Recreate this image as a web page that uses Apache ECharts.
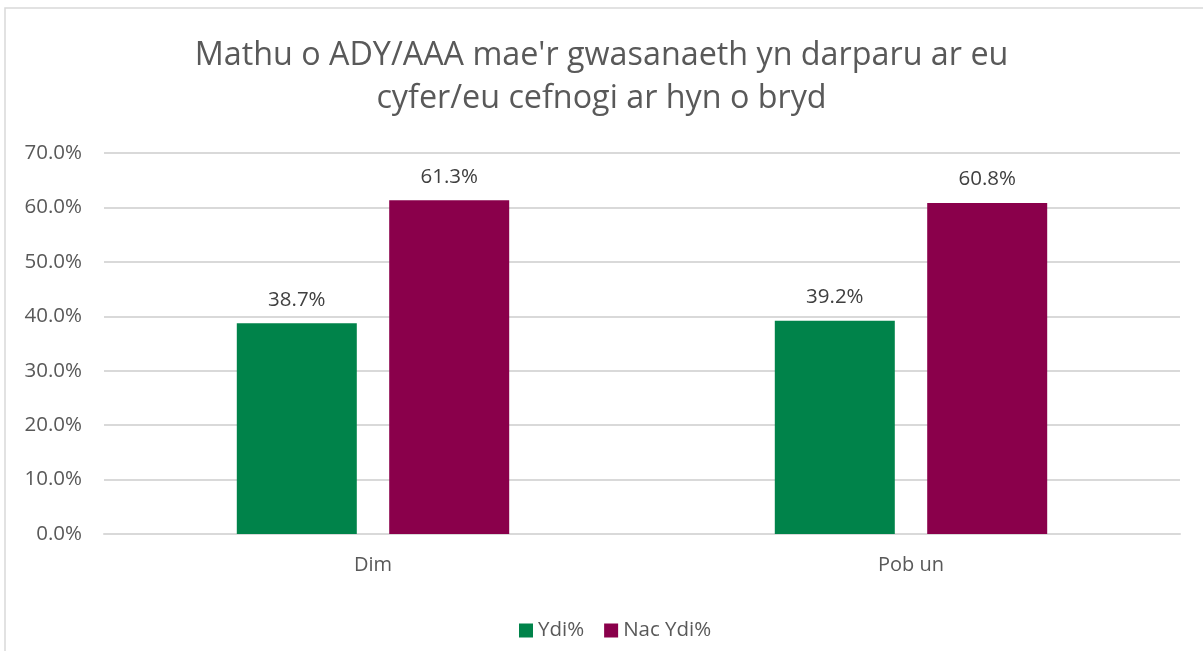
<!DOCTYPE html>
<html>
<head>
<meta charset="utf-8">
<script src="https://cdn.jsdelivr.net/npm/echarts@6/dist/echarts.min.js"></script>
<style>
  html, body { margin: 0; padding: 0; background: #fff; }
  #chart { width: 1203px; height: 651px; }
</style>
</head>
<body>
<div id="chart"></div>
<script>
const categories = ["Dim", "Pob un"];
const seriesNames = ["Ydi%", "Nac Ydi%"];
const ydiValues = [38.7, 39.2];
const nacYdiValues = [61.3, 60.8];
const colors = ["#00834a", "#8a004b"];

const labelFont = "'Open Sans', sans-serif";
const textColor = "#595959";

const chart = echarts.init(document.getElementById("chart"));

const barSeries = (name, data, color) => ({
  name: name,
  type: "bar",
  data: data,
  barWidth: 120,
  barGap: "27%",
  itemStyle: { color: color },
  label: {
    show: true,
    position: "top",
    distance: 13,
    formatter: (p) => p.value.toFixed(1) + "%",
    color: "#404040",
    fontFamily: labelFont,
    fontSize: 20.5,
  },
});

const option = {
  backgroundColor: "#fff",
  animation: false,
  title: {
    text: "Mathu o ADY/AAA mae'r gwasanaeth yn darparu ar eu\ncyfer/eu cefnogi ar hyn o bryd",
    left: "center",
    top: 29,
    textStyle: {
      fontFamily: labelFont,
      fontSize: 32.3,
      fontWeight: "normal",
      color: textColor,
      lineHeight: 43,
    },
  },
  graphic: [
    {
      type: "rect",
      shape: { x: 5, y: 8, width: 1300, height: 800 },
      style: { fill: "none", stroke: "#d9d9d9", lineWidth: 1.5 },
      silent: true,
    },
  ],
  legend: {
    data: seriesNames,
    left: 514,
    top: 615,
    itemWidth: 14,
    itemHeight: 14,
    itemGap: 20,
    icon: "rect",
    textStyle: { fontFamily: labelFont, fontSize: 20.5, color: textColor },
  },
  grid: { left: 104, right: 23, top: 153, bottom: 117, containLabel: false },
  xAxis: {
    type: "category",
    data: categories,
    axisLine: { lineStyle: { color: "#d9d9d9", width: 2 } },
    axisTick: { show: false },
    axisLabel: {
      margin: 21,
      fontFamily: labelFont,
      fontSize: 20,
      color: textColor,
    },
  },
  yAxis: {
    type: "value",
    min: 0,
    max: 70,
    interval: 10,
    axisLine: { show: false },
    axisTick: { show: false },
    splitLine: { lineStyle: { color: "#d9d9d9", width: 2 } },
    axisLabel: {
      margin: 22,
      formatter: (v) => v.toFixed(1) + "%",
      fontFamily: labelFont,
      fontSize: 20.5,
      color: textColor,
    },
  },
  series: [
    barSeries(seriesNames[0], ydiValues, colors[0]),
    barSeries(seriesNames[1], nacYdiValues, colors[1]),
  ],
};

chart.setOption(option);
</script>
</body>
</html>
